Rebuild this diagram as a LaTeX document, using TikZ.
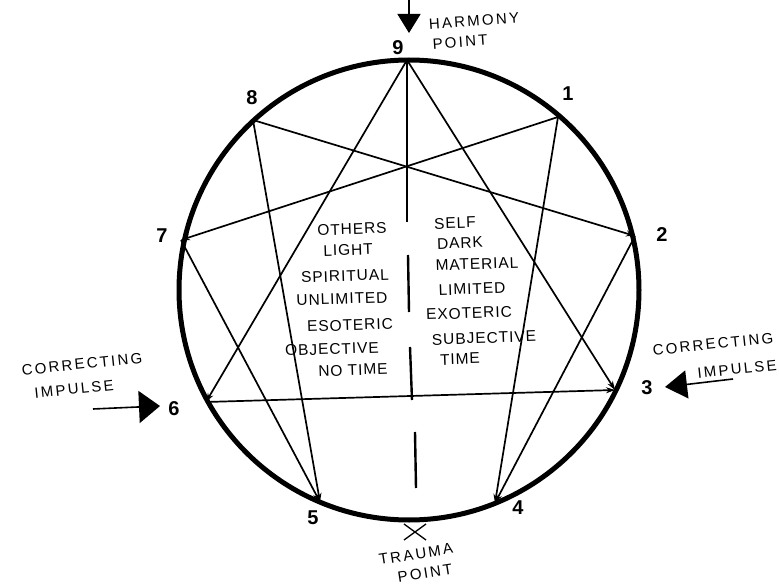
\documentclass[tikz,border=0pt]{standalone}
\usepackage{fontspec}
\setmainfont{Liberation Sans}
\usetikzlibrary{arrows.meta}
\begin{document}
\begin{tikzpicture}[x=1pt,y=-1pt,
  rim/.style={line width=5pt},
  chord/.style={line width=1.7pt, -{Stealth[length=9pt,width=6pt]}},
  axisline/.style={line width=2.4pt},
  num/.style={font=\bfseries\fontsize{20}{20}\selectfont, inner sep=0pt},
  hand/.style={font=\fontsize{15.5}{15.5}\selectfont\addfontfeature{LetterSpace=6}, inner sep=0pt, rotate=2},
  side/.style={font=\fontsize{15}{15}\selectfont\addfontfeature{LetterSpace=15}, inner sep=0pt, rotate=6},
  bigarrow/.style={line width=1.6pt},
]
\useasboundingbox (0,0) rectangle (780,586);

% the circle and the nine points on it
\coordinate (c) at (409,290);
\draw[rim] (c) circle[radius=230];
\coordinate (p9) at (407,60);
\coordinate (p1) at (558,117);
\coordinate (p2) at (635,236);
\coordinate (p3) at (615,390);
\coordinate (p4) at (495,503);
\coordinate (p5) at (320,502);
\coordinate (p6) at (206,402);
\coordinate (p7) at (181,240);
\coordinate (p8) at (253,120);

% triangle
\draw[chord] (p9) -- (p3);
\draw[chord] (p9) -- (p6);
\draw[chord] (p6) -- (p3);

% hexad
\draw[chord] (p1) -- (p4);
\draw[chord] (p2) -- (p4);
\draw[chord] (p8) -- (p5);
\draw[chord] (p7) -- (p5);
\draw[chord] (p1) -- (p7);
\draw[chord] (p8) -- (p2);

% central broken axis
\coordinate (a1) at (407,222);
\coordinate (a2) at (408,255);
\coordinate (a3) at (409,312);
\coordinate (a4) at (410,347);
\coordinate (a5) at (412,400);
\coordinate (a6) at (415,432);
\coordinate (a7) at (416,488);
\draw[axisline] (p9) -- (a1);
\draw[axisline] (a2) -- (a3);
\draw[axisline] (a4) -- (a5);
\draw[axisline] (a6) -- (a7);

% number labels
\node[num] (n9) at (398,48) {9};
\node[num] (n1) at (568,94) {1};
\node[num] (n2) at (662,235) {2};
\node[num] (n3) at (647,388) {3};
\node[num] (n4) at (518,508) {4};
\node[num] (n5) at (313,518) {5};
\node[num] (n6) at (174,409) {6};
\node[num] (n7) at (162,236) {7};
\node[num] (n8) at (252,98) {8};

% harmony point
\coordinate (hT) at (409,0);
\coordinate (hH) at (409,33);
\draw[bigarrow, -{Triangle[length=19pt,width=23pt]}] (hT) -- (hH);
\node[side, rotate=-2] (harm) at (474,21) {HARMONY};
\node[side, rotate=-2] (hpt) at (460,42) {POINT};

% correcting impulses
\coordinate (lT) at (93,409);
\coordinate (lH) at (160,406);
\draw[bigarrow, -{Triangle[length=21pt,width=32pt]}] (lT) -- (lH);
\node[side] (lc) at (82,364) {CORRECTING};
\node[side] (li) at (74,389) {IMPULSE};

\coordinate (rT) at (733,379);
\coordinate (rH) at (665,387);
\draw[bigarrow, -{Triangle[length=22pt,width=28pt]}] (rT) -- (rH);
\node[side] (rc) at (713,344) {CORRECTING};
\node[side] (ri) at (737,369) {IMPULSE};

% trauma point
\coordinate (tx) at (415,532);
\draw[line width=1.3pt] (404,524) -- (426,540) (404,540) -- (426,524);
\node[side, rotate=3] (tr) at (416,554) {TRAUMA};
\node[side, rotate=3] (tp) at (425,573) {POINT};

% inner text, left column
\node[hand] (l1) at (352,229) {OTHERS};
\node[hand] (l2) at (348,250) {LIGHT};
\node[hand] (l3) at (345,276) {SPIRITUAL};
\node[hand] (l4) at (342,299) {UNLIMITED};
\node[hand] (l5) at (350,325) {ESOTERIC};
\node[hand] (l6) at (332,349) {OBJECTIVE};
\node[hand] (l7) at (353,370) {NO TIME};
% inner text, right column
\node[hand] (r1) at (455,223) {SELF};
\node[hand] (r2) at (460,243) {DARK};
\node[hand] (r3) at (477,264) {MATERIAL};
\node[hand] (r4) at (472,289) {LIMITED};
\node[hand] (r5) at (469,313) {EXOTERIC};
\node[hand] (r6) at (484,338) {SUBJECTIVE};
\node[hand] (r7) at (460,359) {TIME};
\end{tikzpicture}
\end{document}
